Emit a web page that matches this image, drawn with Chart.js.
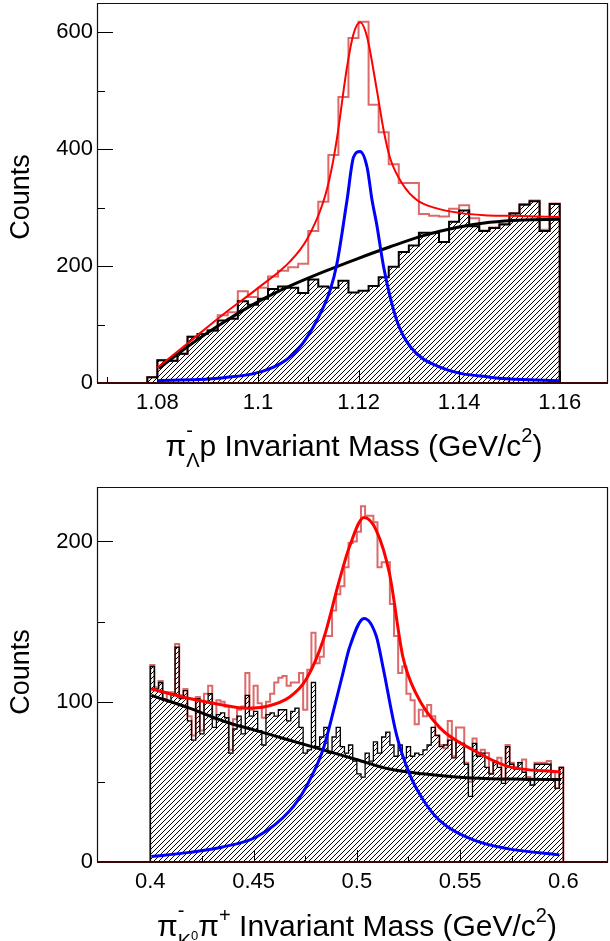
<!DOCTYPE html>
<html><head><meta charset="utf-8">
<script src="https://cdn.jsdelivr.net/npm/chart.js@4.4.1/dist/chart.umd.min.js"></script>
<style>
html,body{margin:0;padding:0;background:#fff;width:610px;height:941px;overflow:hidden;}
canvas{position:absolute;left:0;}
#c1{top:0;} #c2{top:470px;}
</style></head><body>
<canvas id="c1" width="610" height="470"></canvas>
<canvas id="c2" width="610" height="471"></canvas>
<script>
// ---------------- DATA: top panel (pi- p, Lambda) ----------------
const topBinStart = 1.078;
const topBinWidth = 0.002;
const topBackgroundHist = [10, 39, 38, 50, 79, 84, 90, 107, 110, 140, 134, 144, 161, 165, 163, 154, 177, 165, 163, 175, 155, 158, 166, 181, 199, 224, 235, 257, 257, 241, 276, 295, 268, 260, 265, 271, 290, 305, 311, 260, 306];
const topDataHist = [10, 39, 38, 50, 79, 84, 90, 116, 121, 157, 147, 163, 182, 192, 198, 204, 260, 310, 390, 489, 590, 618, 476, 429, 374, 342, 342, 289, 286, 285, 298, 304, 282, 261, 266, 272, 291, 306, 312, 262, 307];
const topTotalFitX = [1.080, 1.0866, 1.0932, 1.0998, 1.1064, 1.1097, 1.113, 1.1145, 1.1157, 1.1177, 1.119, 1.1203, 1.1217, 1.1236, 1.125, 1.1263, 1.129, 1.1316, 1.135, 1.14, 1.145, 1.15, 1.155, 1.16];
const topTotalFitY = [26, 72, 118, 161, 208, 245, 310, 360, 418, 540, 597, 617, 592, 503, 432, 384, 337, 313, 300, 291, 287, 286, 285, 284];
const topSignalX = [1.080, 1.0932, 1.1031, 1.1078, 1.1117, 1.1144, 1.1157, 1.1177, 1.119, 1.1203, 1.1217, 1.1227, 1.1236, 1.125, 1.1276, 1.1303, 1.1362, 1.1461, 1.16];
const topSignalY = [4, 9, 27, 56, 107, 160, 204, 312, 386, 396, 369, 312, 272, 198, 107, 62, 27, 10, 4];
const topBkgFitX = [1.0803, 1.0866, 1.0932, 1.0998, 1.1064, 1.113, 1.1196, 1.1263, 1.1329, 1.1395, 1.1461, 1.1527, 1.16];
const topBkgFitY = [25, 66, 104, 138, 166, 190, 212, 233, 252, 266, 275, 279, 280];
const topXTicks = [1.08, 1.1, 1.12, 1.14, 1.16];
const topXMinor = [1.07, 1.09, 1.11, 1.13, 1.15];
const topYTicks = [0, 200, 400, 600];
const topYMinor = [100, 300, 500];

// ---------------- DATA: bottom panel (pi- pi+, K0) ----------------
const botBinStart = 0.4;
const botBinWidth = 0.002;
const botBackgroundHist = [122, 108, 112, 101, 100, 105, 134, 102, 107, 88, 76, 102, 80, 100, 105, 84, 92, 93, 90, 68, 83, 91, 80, 104, 91, 94, 82, 73, 92, 93, 91, 95, 95,
  88, 94, 96, 84, 68, 70, 112, 72, 78, 84, 68, 78, 84, 72, 68, 73, 63, 55, 53, 68, 63, 75, 68, 78, 81, 73, 66, 73, 65, 72, 66, 68, 67, 70,
  73, 84, 79, 72, 73, 76, 65, 75, 74, 61, 41, 74, 66, 68, 59, 55, 62, 59, 49, 72, 61, 58, 62, 56, 51, 48, 61, 61, 61, 61, 51, 46, 59];
const botDataHist = [123, 109, 113, 101, 106, 106, 136, 104, 108, 91, 79, 103, 82, 105, 110, 89, 101, 100, 97, 70, 89, 95, 97, 118, 95, 110, 99, 90, 100, 105, 112, 115, 116,
  110, 112, 112, 118, 95, 120, 143, 124, 128, 141, 141, 157, 167, 172, 184, 199, 200, 206, 222, 216, 216, 212, 184, 187, 187, 161, 141, 118, 122, 105, 101, 86, 95, 91,
  98, 91, 79, 73, 71, 88, 66, 84, 84, 62, 50, 77, 66, 70, 68, 55, 63, 65, 51, 73, 62, 59, 62, 64, 53, 48, 62, 62, 62, 63, 56, 46, 59];
const botTotalFitX = [0.4005, 0.419, 0.435, 0.4465, 0.456, 0.4675, 0.4755, 0.4836, 0.4916, 0.4965, 0.5035, 0.5094, 0.5158, 0.5223, 0.5287, 0.54, 0.5561, 0.5723, 0.5989];
const botTotalFitY = [108, 102, 98, 96, 97, 103, 114, 138, 176, 197, 215, 207, 180, 128, 105, 84, 70, 60, 56];
const botSignalX = [0.4005, 0.419, 0.435, 0.4513, 0.4675, 0.4755, 0.4836, 0.49, 0.4933, 0.4965, 0.5035, 0.5094, 0.5126, 0.5191, 0.5255, 0.532, 0.54, 0.5561, 0.5723, 0.598];
const botSignalY = [3.5, 6, 9.4, 15.6, 32, 47, 70, 101, 118, 134, 152, 141, 122, 80, 55, 39, 26, 14, 8.5, 4.5];
const botBkgFitX = [0.4005, 0.419, 0.4352, 0.4513, 0.4675, 0.4836, 0.4997, 0.5158, 0.532, 0.5481, 0.5642, 0.5803, 0.5989];
const botBkgFitY = [104, 96, 88, 82, 76, 70, 64, 58, 55, 53, 52, 51.7, 51.5];
const botXTicks = [0.4, 0.45, 0.5, 0.55, 0.6];
const botXMinor = [0.425, 0.475, 0.525, 0.575];
const botYTicks = [0, 100, 200];
const botYMinor = [50, 150];

// ---------------- helpers ----------------
const FAM = '"Liberation Sans", Arial, Helvetica, sans-serif';
Chart.defaults.font.family = FAM;
Chart.defaults.color = '#000';

function histPoints(start, width, vals) {
  const pts = [{x: start, y: 0}];
  vals.forEach((v, i) => pts.push({x: start + i * width, y: v}));
  const end = start + vals.length * width;
  pts.push({x: end, y: vals[vals.length - 1]});
  pts.push({x: end, y: 0});
  return pts;
}
function curvePoints(xs, ys) { return xs.map((x, i) => ({x: x, y: ys[i]})); }

function hatchPattern(ctx) {
  const s = 5;
  const c = document.createElement('canvas');
  c.width = s; c.height = s;
  const g = c.getContext('2d');
  g.strokeStyle = '#000'; g.lineWidth = 1;
  g.beginPath();
  g.moveTo(0, s); g.lineTo(s, 0);
  g.moveTo(-1, 1); g.lineTo(1, -1);
  g.moveTo(s - 1, s + 1); g.lineTo(s + 1, s - 1);
  g.stroke();
  return ctx.createPattern(c, 'repeat');
}

function richWidth(ctx, list) {
  let w = 0;
  list.forEach(el => {
    if (el.stack) w += Math.max(...el.stack.map(l => richWidth(ctx, l)));
    else { ctx.font = el.size + 'px ' + FAM; w += ctx.measureText(el.t).width; }
  });
  return w;
}
function richDraw(ctx, list, x, base) {
  list.forEach(el => {
    if (el.stack) {
      el.stack.forEach(l => richDraw(ctx, l, x, base));
      x += Math.max(...el.stack.map(l => richWidth(ctx, l)));
    } else {
      ctx.font = el.size + 'px ' + FAM;
      ctx.fillText(el.t, x, base + (el.dy || 0));
      x += ctx.measureText(el.t).width;
    }
  });
}

const decorPlugin = {
  id: 'decor',
  afterDatasetsDraw(chart, args, o) {
    const ctx = chart.ctx, a = chart.chartArea, xs = chart.scales.x, ys = chart.scales.y;
    ctx.save();
    const seg = (x1, y1, x2, y2) => { ctx.beginPath(); ctx.moveTo(x1, y1); ctx.lineTo(x2, y2); ctx.stroke(); };
    ctx.strokeStyle = '#000'; ctx.lineWidth = 1;
    o.xMajor.forEach(v => { const p = Math.round(xs.getPixelForValue(v)) + 0.5; seg(p, a.bottom, p, a.bottom - 12); });
    o.xMinor.forEach(v => { const p = Math.round(xs.getPixelForValue(v)) + 0.5; seg(p, a.bottom, p, a.bottom - 6); });
    o.yMajor.forEach(v => { const p = Math.round(ys.getPixelForValue(v)) + 0.5; seg(a.left, p, a.left + 16, p); });
    o.yMinor.forEach(v => { const p = Math.round(ys.getPixelForValue(v)) + 0.5; seg(a.left, p, a.left + 8, p); });
    ctx.lineWidth = 1.2; ctx.strokeStyle = '#111';
    seg(a.left, a.top + 0.5, a.right, a.top + 0.5);
    seg(a.left + 0.5, a.top, a.left + 0.5, a.bottom);
    seg(a.right - 0.5, a.top, a.right - 0.5, a.bottom);
    ctx.lineWidth = 2; ctx.strokeStyle = '#3a0606';
    seg(a.left, a.bottom, a.right, a.bottom);
    ctx.restore();
  },
  afterDraw(chart, args, o) {
    const ctx = chart.ctx;
    ctx.save();
    ctx.fillStyle = '#000';
    ctx.translate(o.yTitleX, o.yTitleY);
    ctx.rotate(-Math.PI / 2);
    ctx.font = o.yTitleSize + 'px ' + FAM;
    ctx.textAlign = 'center'; ctx.textBaseline = 'middle';
    ctx.fillText('Counts', 0, 0);
    ctx.restore();
    ctx.save();
    ctx.fillStyle = '#000';
    ctx.textAlign = 'left'; ctx.textBaseline = 'alphabetic';
    const w = richWidth(ctx, o.xTitle);
    richDraw(ctx, o.xTitle, o.xTitleCX - w / 2, o.xTitleBase);
    ctx.restore();
  }
};

function makePanel(id, p) {
  const canvas = document.getElementById(id);
  const ctx = canvas.getContext('2d');
  const hatch = hatchPattern(ctx);
  return new Chart(ctx, {
    type: 'line',
    data: {
      datasets: [
        {data: curvePoints(p.totX, p.totY), borderColor: '#ff0000', borderWidth: p.totW, pointRadius: 0, fill: false, cubicInterpolationMode: 'monotone', order: 0},
        {data: curvePoints(p.sigX, p.sigY), borderColor: '#0000ff', borderWidth: 3, pointRadius: 0, fill: false, cubicInterpolationMode: 'monotone', order: 1},
        {data: curvePoints(p.bkgX, p.bkgY), borderColor: '#000000', borderWidth: 3, pointRadius: 0, fill: false, cubicInterpolationMode: 'monotone', order: 2},
        {data: histPoints(p.binStart, p.binWidth, p.bkgHist), borderColor: '#000000', borderWidth: p.histW, pointRadius: 0, stepped: true, fill: 'origin', backgroundColor: hatch, borderJoinStyle: 'miter', order: 3},
        {data: histPoints(p.binStart, p.binWidth, p.dataHist), borderColor: 'rgba(208,48,48,0.72)', borderWidth: 2, pointRadius: 0, stepped: true, fill: false, borderJoinStyle: 'miter', order: 4}
      ]
    },
    options: {
      responsive: false, animation: false,
      layout: {padding: {left: 0, right: 2, top: p.padTop, bottom: 0}},
      plugins: {legend: {display: false}, tooltip: {enabled: false},
        decor: {xMajor: p.xTicks, xMinor: p.xMinor, yMajor: p.yTicks, yMinor: p.yMinor,
          yTitleX: 22, yTitleY: p.yTitleY, yTitleSize: 27,
          xTitle: p.xTitle, xTitleCX: p.xTitleCX, xTitleBase: p.xTitleBase}},
      scales: {
        x: {type: 'linear', min: p.xMin, max: p.xMax,
          afterBuildTicks: s => { s.ticks = p.xTicks.map(v => ({value: v})); },
          afterFit: s => { s.height = p.xAxisH; s.paddingLeft = 0; s.paddingRight = 0; },
          ticks: {font: {size: 22}, color: '#000', padding: 7, maxRotation: 0, autoSkip: false, callback: v => String(v)},
          grid: {display: false, drawTicks: false}, border: {display: false}},
        y: {type: 'linear', min: 0, max: p.yMax,
          afterBuildTicks: s => { s.ticks = p.yTicks.map(v => ({value: v})); },
          afterFit: s => { s.width = 97; s.paddingTop = 0; s.paddingBottom = 0; },
          ticks: {font: {size: 22}, color: '#000', padding: 4, autoSkip: false, callback: v => String(v)},
          grid: {display: false, drawTicks: false}, border: {display: false}}
      }
    },
    plugins: [decorPlugin]
  });
}

makePanel('c1', {
  binStart: topBinStart, binWidth: topBinWidth, bkgHist: topBackgroundHist, dataHist: topDataHist,
  totX: topTotalFitX, totY: topTotalFitY, sigX: topSignalX, sigY: topSignalY, bkgX: topBkgFitX, bkgY: topBkgFitY,
  xTicks: topXTicks, xMinor: topXMinor, yTicks: topYTicks, yMinor: topYMinor,
  xMin: 1.068, xMax: 1.1696, yMax: 650, padTop: 3, xAxisH: 87, totW: 2, histW: 2,
  yTitleY: 197, xTitleCX: 354, xTitleBase: 456,
  xTitle: [
    {t: 'π', size: 30},
    {stack: [[{t: '-', size: 20, dy: -19}], [{t: 'Λ', size: 20, dy: 11}]]},
    {t: 'p Invariant Mass (GeV/c', size: 30},
    {t: '2', size: 20, dy: -14},
    {t: ')', size: 30}
  ]
});

makePanel('c2', {
  binStart: botBinStart, binWidth: botBinWidth, bkgHist: botBackgroundHist, dataHist: botDataHist,
  totX: botTotalFitX, totY: botTotalFitY, sigX: botSignalX, sigY: botSignalY, bkgX: botBkgFitX, bkgY: botBkgFitY,
  xTicks: botXTicks, xMinor: botXMinor, yTicks: botYTicks, yMinor: botYMinor,
  xMin: 0.3742, xMax: 0.6216, yMax: 234, padTop: 17, xAxisH: 79, totW: 3, histW: 1.3,
  yTitleY: 202, xTitleCX: 357, xTitleBase: 466,
  xTitle: [
    {t: 'π', size: 30},
    {stack: [[{t: '-', size: 20, dy: -19}], [{t: 'K', size: 20, dy: 12}, {t: '0', size: 13, dy: 4}]]},
    {t: 'π', size: 30},
    {t: '+', size: 20, dy: -14},
    {t: ' Invariant Mass (GeV/c', size: 30},
    {t: '2', size: 20, dy: -14},
    {t: ')', size: 30}
  ]
});
</script></body></html>
